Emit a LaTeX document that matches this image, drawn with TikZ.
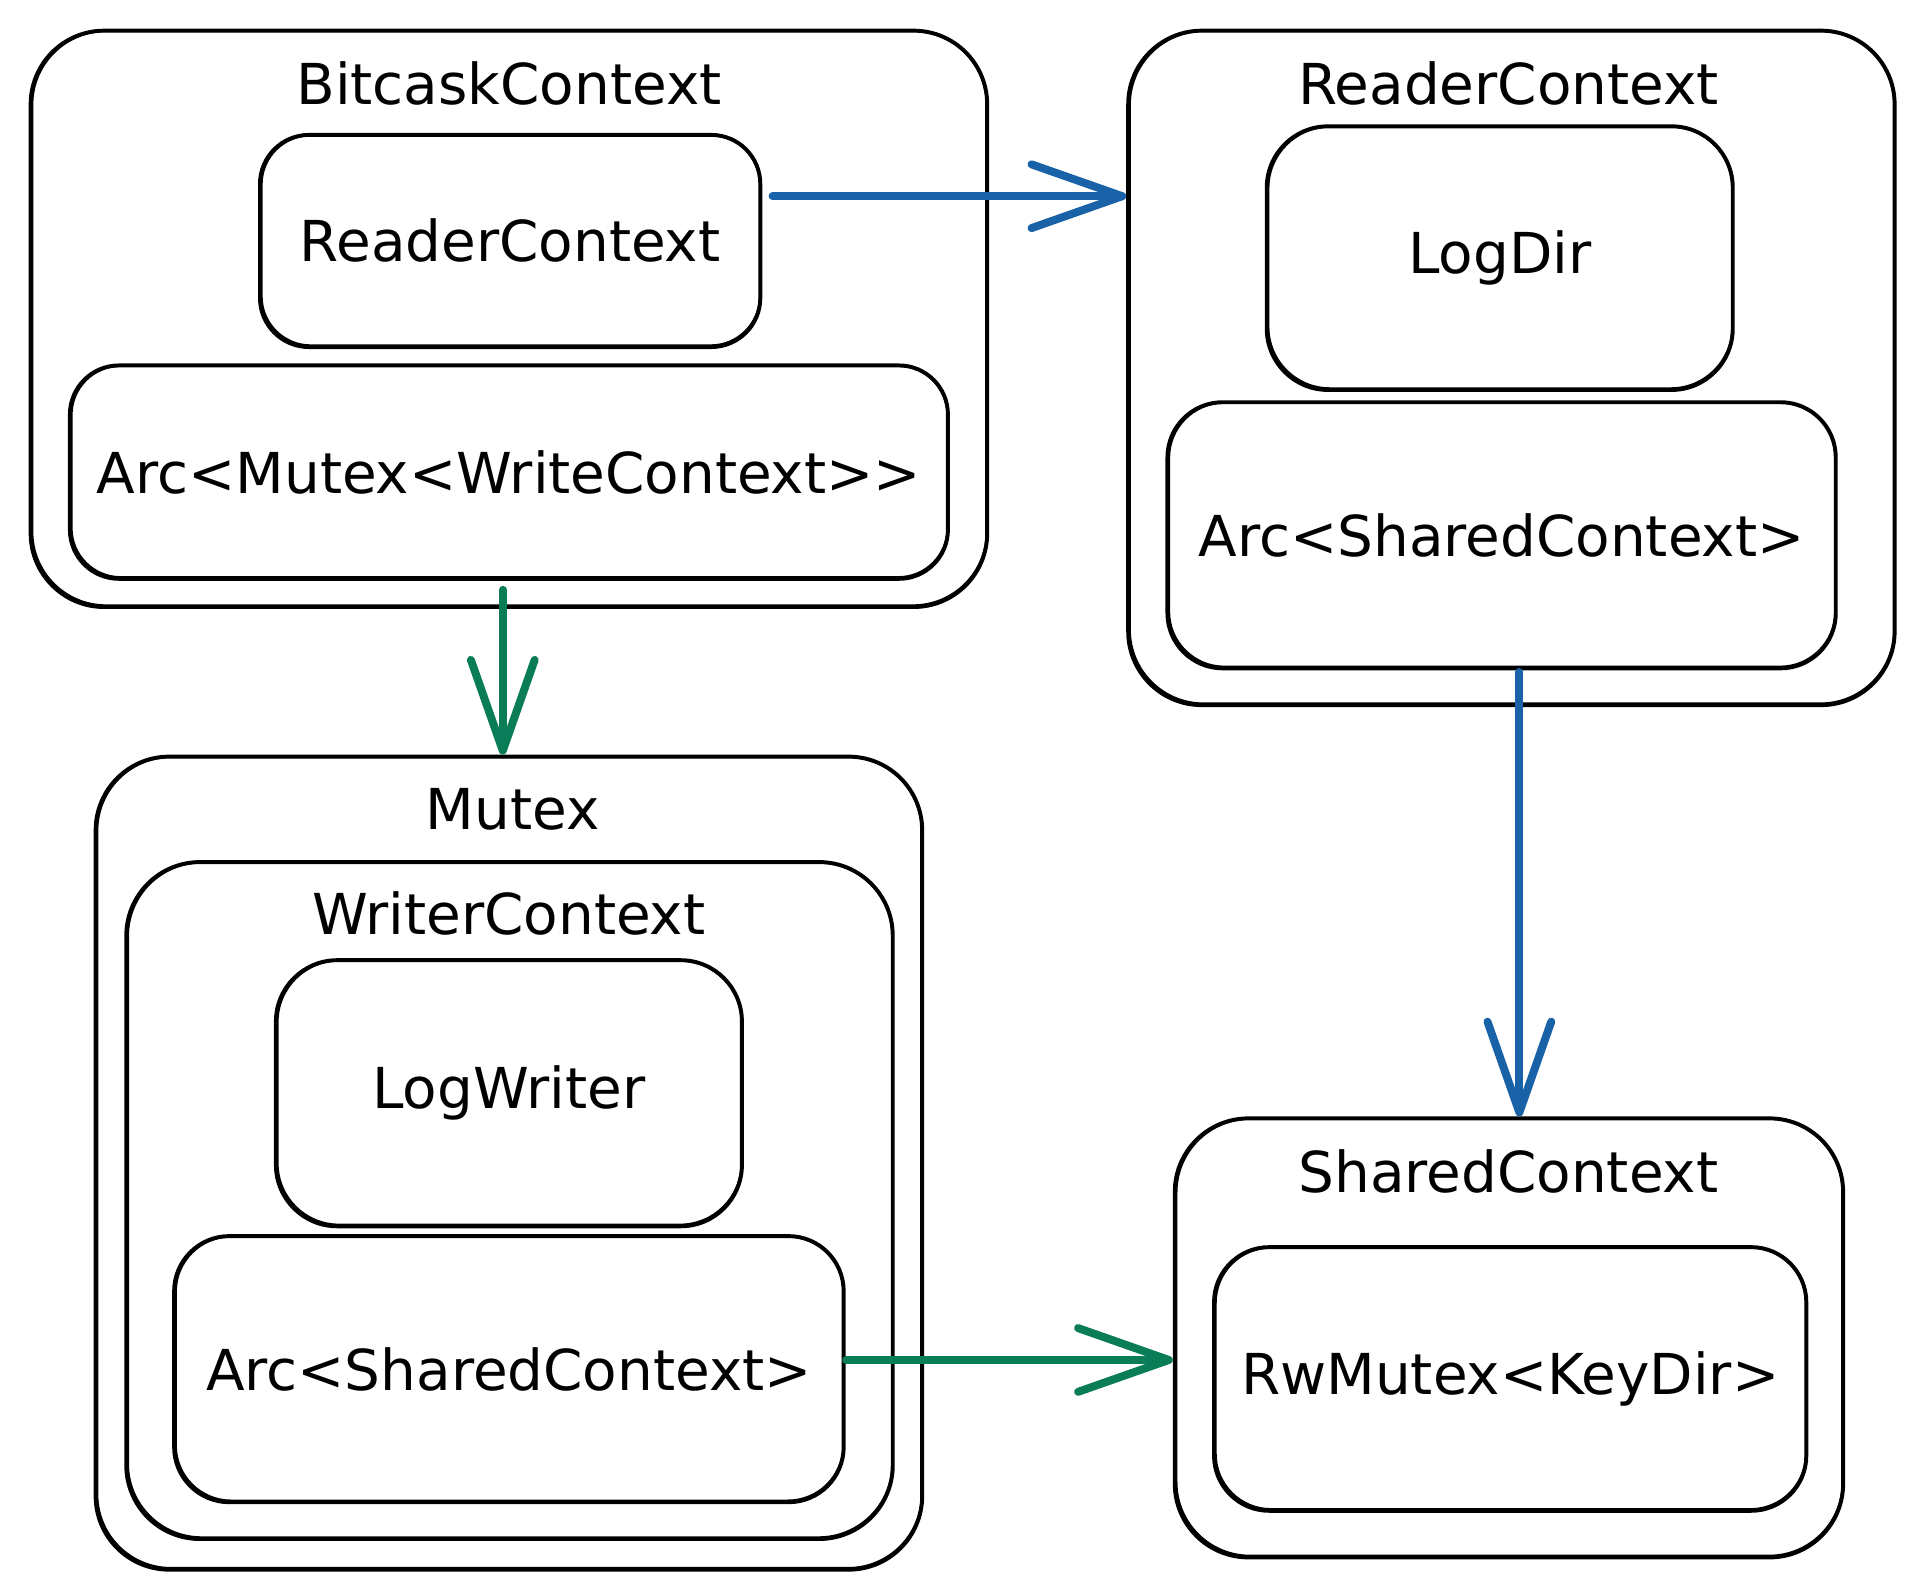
\documentclass[tikz,border=0pt]{standalone}
\usepackage{fontspec}
\setmainfont{DejaVu Sans}
\usetikzlibrary{arrows.meta}
\definecolor{arrblue}{RGB}{26,98,168}
\definecolor{arrgreen}{RGB}{10,125,88}
\begin{document}
\begin{tikzpicture}[x=1pt,y=-1pt,
  box/.style={draw=black, rounded corners=#1, line width=3.2pt, inner sep=0pt, align=center,
    append after command={\pgfextra{\draw[black, line width=1.6pt, rounded corners=#1]
      ([shift={(3pt,-2pt)}]\tikzlastnode.north west) rectangle
      ([shift={(-2pt,3pt)}]\tikzlastnode.south east);}}},
  box/.default=45pt,
  lbl/.style={inner sep=0pt},
  conn/.style={line width=6.5pt, line cap=round, -{Straight Barb[length=74pt,width=52pt,round]}},
  every node/.style={font=\fontsize{46}{54}\selectfont}]
\useasboundingbox (0,0) rectangle (1560,1298.2);
% BitcaskContext
\node[box=60pt, minimum width=780pt, minimum height=470pt] (B) at (415,260) {};
\node[lbl] (Bt) at (415,68) {BitcaskContext};
\node[box=40pt, minimum width=408pt, minimum height=173pt] (Ba) at (416,196.5) {ReaderContext};
\node[box=40pt, minimum width=716pt, minimum height=174pt] (Bb) at (415,385) {Arc<Mutex<WriteContext>{}>};
% ReaderContext
\node[box=60pt, minimum width=625pt, minimum height=550pt] (R) at (1232.5,300) {};
\node[lbl] (Rt) at (1230,68) {ReaderContext};
\node[box=50pt, minimum width=380pt, minimum height=215pt] (Ra) at (1223,210.5) {LogDir};
\node[box=45pt, minimum width=545pt, minimum height=217pt] (Rb) at (1224.5,436.5) {Arc<SharedContext>};
% Mutex
\node[box=60pt, minimum width=674pt, minimum height=663pt] (M) at (415,948.5) {};
\node[lbl] (Mt) at (418,660) {Mutex};
\node[box=60pt, minimum width=625pt, minimum height=552pt] (W) at (415.5,979) {};
\node[lbl] (Wt) at (415,745) {WriterContext};
\node[box=50pt, minimum width=380pt, minimum height=217pt] (Wa) at (415,891.5) {LogWriter};
\node[box=45pt, minimum width=546pt, minimum height=217pt] (Wb) at (415,1116.5) {Arc<SharedContext>};
% SharedContext
\node[box=60pt, minimum width=545pt, minimum height=358pt] (S) at (1230.5,1091) {};
\node[lbl] (St) at (1230,955) {SharedContext};
\node[box=45pt, minimum width=483pt, minimum height=215pt] (Sa) at (1231.5,1124.5) {RwMutex<KeyDir>};
% connectors
\coordinate (c1) at (630,160);
\draw[conn, arrblue] (c1) -- (c1 -| R.west);
\coordinate (c2) at (410,481);
\draw[conn, arrgreen] (c2) -- (c2 |- M.north);
\coordinate (c3) at (1239,548);
\draw[conn, arrblue] (c3) -- (c3 |- S.north);
\coordinate (c4) at (690,1109);
\draw[conn, arrgreen] (c4) -- (c4 -| S.west);
\end{tikzpicture}
\end{document}
